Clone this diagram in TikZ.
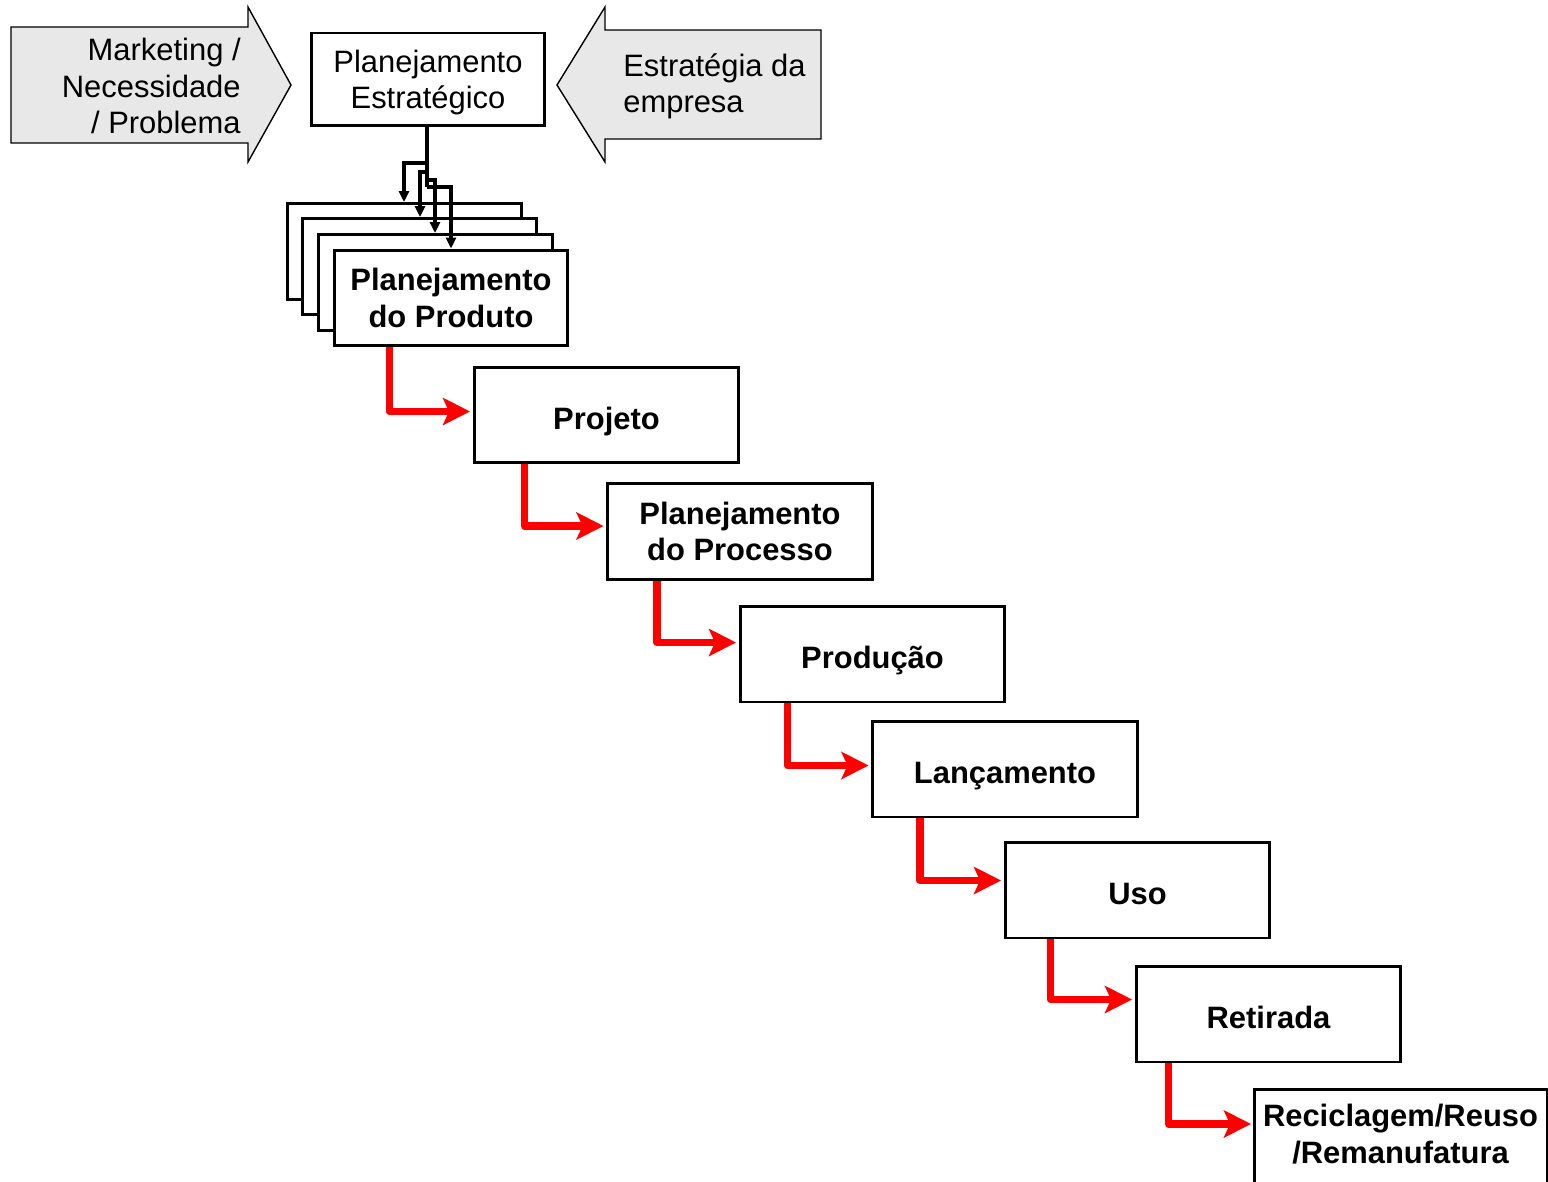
\documentclass[tikz,border=0pt]{standalone}
\usepackage{fontspec}
\setmainfont{Liberation Sans}
\usetikzlibrary{arrows.meta}
\begin{document}
\begin{tikzpicture}[x=0.02cm,y=-0.02cm,
  every node/.style={font=\fontsize{17.6}{20.6}\selectfont},
  stagebox/.style={draw=black, line width=1.7pt, fill=white, minimum width=5.3cm, minimum height=1.92cm, inner sep=0pt, align=center, font=\fontsize{17.6}{20.6}\selectfont\bfseries},
  oneline/.style={stagebox, text height=17pt, text depth=0pt},
  stackbox/.style={stagebox, minimum width=4.68cm},
  bigarrow/.style={draw=black, line width=0.8pt, fill=black!9, line join=miter},
  flow/.style={draw=red, line width=4.3pt, line join=round, -{Stealth[length=0.54cm,width=0.54cm,inset=0.12cm]}},
  feed/.style={draw=black, line width=1.8pt, -{Triangle[length=0.22cm,width=0.2cm]}}]
\clip (0,0) rectangle (1548,1182);
\useasboundingbox (0,0) rectangle (1548,1182);

% input arrows
\draw[bigarrow] (11,27) -- (248,27) -- (248,7) -- (291,85) -- (248,162) -- (248,143) -- (11,143) -- cycle;
\node[anchor=east, align=right, inner sep=0pt] (mkt) at (241,86) {Marketing /\\Necessidade\\/ Problema};
\draw[bigarrow] (821,30) -- (605,30) -- (605,7) -- (557,85) -- (605,162) -- (605,139) -- (821,139) -- cycle;
\node[anchor=west, align=left, inner sep=0pt] (emp) at (623,86) {Estratégia da\\empresa};

% strategic planning
\node[draw=black, line width=1.7pt, minimum width=4.68cm, minimum height=1.86cm, inner sep=0pt, align=center, text depth=0pt] (est) at (428,79.5) {Planejamento\\Estratégico};

% stacked product planning boxes
\node[stackbox] (pp1) at (404.5,251.5) {};
\node[stackbox] (pp2) at (419.5,266.5) {};
\node[stackbox] (pp3) at (435.5,282.5) {};
\node[stackbox] (pp) at (451,298) {Planejamento\\do Produto};

% branching feed lines
\coordinate (b1) at (427,163);
\coordinate (b2) at (427,172);
\coordinate (b3) at (427,180);
\coordinate (b4) at (427,187);
\draw[line width=1.8pt] (est.south -| b1) -- (b4);
\draw[feed] (b1) -| (pp1.north -| 404,0);
\draw[feed] (b2) -| (pp2.north -| 420,0);
\draw[feed] (b3) -| (pp3.north -| 435,0);
\draw[feed] (b4) -| (pp.north);

% stages
\node[oneline] (proj) at (606.5,415) {Projeto};
\node[stagebox] (proc) at (740,531.5) {Planejamento\\do Processo};
\node[oneline] (prod) at (872.5,654) {Produção};
\node[oneline] (lanc) at (1005,769) {Lançamento};
\node[oneline] (uso) at (1137.5,890) {Uso};
\node[oneline] (ret) at (1268.5,1014) {Retirada};
\draw[line width=1.7pt, fill=white] (1254,1089) rectangle (1547,1220);
\node[font=\fontsize{17.6}{20.6}\selectfont\bfseries, align=center] (rec) at (1400.5,1134) {Reciclagem/Reuso\\/Remanufatura};
\coordinate (recw) at (1251,1124);

% flow arrows
\draw[flow] ([xshift=1.14cm]pp.south west) |- ([xshift=-0.05cm,yshift=-0.92cm]proj.north west);
\draw[flow] ([xshift=1.04cm]proj.south west) |- ([xshift=-0.05cm,yshift=-0.88cm]proc.north west);
\draw[flow] ([xshift=1.02cm]proc.south west) |- ([xshift=-0.05cm,yshift=-0.76cm]prod.north west);
\draw[flow] ([xshift=0.98cm]prod.south west) |- ([xshift=-0.05cm,yshift=-0.92cm]lanc.north west);
\draw[flow] ([xshift=0.98cm]lanc.south west) |- ([xshift=-0.05cm,yshift=-0.80cm]uso.north west);
\draw[flow] ([xshift=0.94cm]uso.south west) |- ([xshift=-0.05cm,yshift=-0.70cm]ret.north west);
\draw[flow] ([xshift=0.68cm]ret.south west) |- (recw);
\end{tikzpicture}
\end{document}
